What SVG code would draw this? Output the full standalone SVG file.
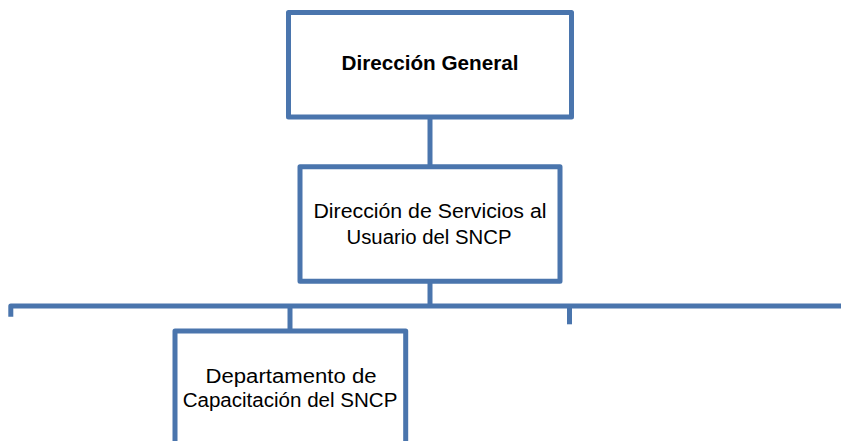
<svg xmlns="http://www.w3.org/2000/svg" width="841" height="441" viewBox="0 0 841 441">
<style>
.box{fill:#ffffff;stroke:#4a75ad;stroke-width:5;stroke-linejoin:round}
.con{fill:none;stroke:#4a75ad;stroke-width:5;stroke-linejoin:round}
.t{font-family:"Liberation Sans",Arial,sans-serif;font-size:20px;fill:#000;text-anchor:middle}
.b{font-weight:bold}
</style>
<rect width="841" height="441" fill="#ffffff"/>
<g id="connectors">
<path class="con" d="M430,117 V167"/>
<path class="con" d="M430,281 V306"/>
<path class="con" d="M10.8,316.7 V306 H846"/>
<path class="con" d="M290,306 V331"/>
<path class="con" d="M569.5,306 V324.3"/>
</g>
<g id="direccion-general">
<rect class="box" x="288.5" y="12.5" width="283" height="104.5"/>
<text class="t b" x="430" y="70" textLength="177" lengthAdjust="spacingAndGlyphs">Dirección General</text>
</g>
<g id="direccion-servicios">
<rect class="box" x="300" y="166.7" width="260" height="114.5"/>
<text class="t" x="430" y="217.5" textLength="233" lengthAdjust="spacingAndGlyphs">Dirección de Servicios al</text>
<text class="t" x="429" y="243.5" textLength="165" lengthAdjust="spacingAndGlyphs">Usuario del SNCP</text>
</g>
<g id="departamento-capacitacion">
<rect class="box" x="175" y="331" width="230.7" height="140"/>
<text class="t" x="291" y="382.7" textLength="171" lengthAdjust="spacingAndGlyphs">Departamento de</text>
<text class="t" x="290" y="406.5" textLength="214.7" lengthAdjust="spacingAndGlyphs">Capacitación del SNCP</text>
</g>
</svg>
